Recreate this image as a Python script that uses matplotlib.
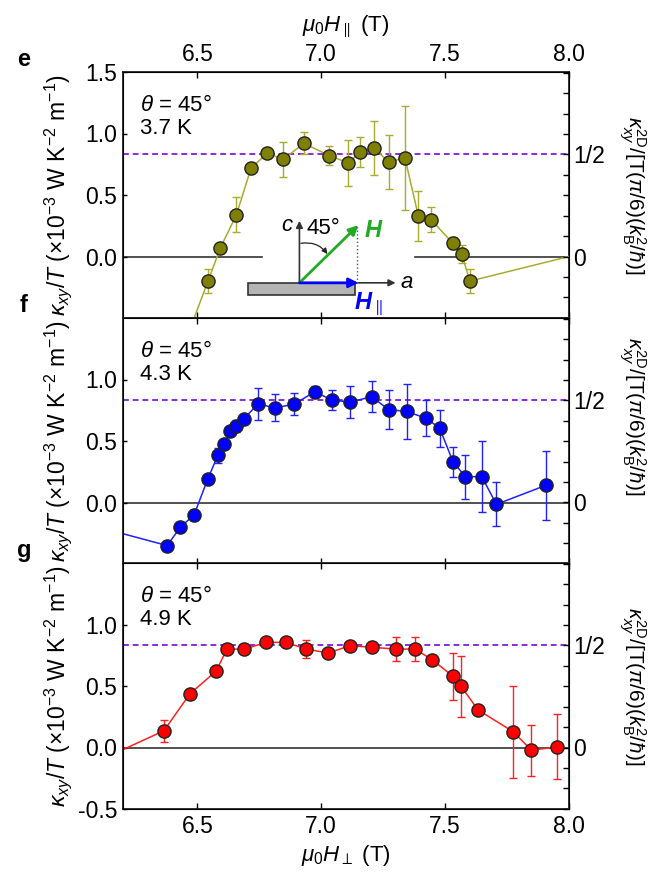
import numpy as np
import matplotlib
matplotlib.use('Agg')
import matplotlib.pyplot as plt
from matplotlib.patches import Rectangle
from matplotlib.ticker import MultipleLocator, FixedLocator, FormatStrFormatter

plt.rcParams['font.family'] = ['Liberation Sans', 'DejaVu Sans']
plt.rcParams['mathtext.fontset'] = 'custom'
plt.rcParams['mathtext.rm'] = 'Liberation Sans'
plt.rcParams['mathtext.it'] = 'Liberation Sans:italic'
plt.rcParams['mathtext.bf'] = 'Liberation Sans:italic:bold'
plt.rcParams['font.size'] = 16

# ---- data ----
# panel e, 3.7 K (first/last entries lie outside the plotted window)
e_H = [6.45, 6.543, 6.593, 6.658, 6.717, 6.783, 6.847, 6.930, 7.033, 7.110, 7.158,
       7.213, 7.272, 7.338, 7.392, 7.443, 7.530, 7.567, 7.600, 8.10]
e_k = [-0.70, -0.20, 0.07, 0.34, 0.72, 0.84, 0.79, 0.92, 0.82, 0.76, 0.85,
       0.88, 0.77, 0.80, 0.33, 0.30, 0.11, 0.02, -0.20, 0.05]
e_err = [0, 0.10, 0.0, 0.14, 0.0, 0.03, 0.14, 0.09, 0.08, 0.19, 0.12,
         0.22, 0.22, 0.42, 0.20, 0.10, 0.05, 0.07, 0.10, 0]

# panel f, 4.3 K
f_H = [6.10, 6.378, 6.432, 6.487, 6.542, 6.583, 6.607, 6.633, 6.657, 6.687, 6.745,
       6.815, 6.892, 6.973, 7.042, 7.115, 7.203, 7.273, 7.345, 7.423, 7.478,
       7.532, 7.582, 7.648, 7.707, 7.907]
f_k = [-0.20, -0.35, -0.20, -0.10, 0.19, 0.385, 0.475, 0.58, 0.62, 0.68, 0.80,
       0.77, 0.80, 0.90, 0.835, 0.815, 0.86, 0.755, 0.74, 0.685, 0.605,
       0.33, 0.21, 0.21, -0.015, 0.14]
f_err = [0, 0.04, 0.04, 0.04, 0.02, 0.06, 0.03, 0.03, 0.05, 0.03, 0.13,
         0.11, 0.09, 0.045, 0.08, 0.13, 0.125, 0.16, 0.22, 0.145, 0.15,
         0.12, 0.18, 0.29, 0.18, 0.28]

# panel g, 4.9 K
g_H = [6.10, 6.365, 6.470, 6.575, 6.620, 6.690, 6.778, 6.857, 6.940, 7.028, 7.117,
       7.203, 7.300, 7.378, 7.448, 7.532, 7.565, 7.633, 7.775, 7.848, 7.953]
g_k = [-0.11, 0.136, 0.436, 0.62, 0.80, 0.80, 0.855, 0.855, 0.80, 0.768, 0.828,
       0.815, 0.80, 0.80, 0.714, 0.578, 0.496, 0.305, 0.128, -0.022, 0.005]
g_err = [0, 0.09, 0, 0, 0, 0, 0, 0, 0.075, 0, 0,
         0, 0.095, 0.095, 0, 0.19, 0.245, 0, 0.375, 0.207, 0.264]

k_half = 0.83          # kappa_xy/T value of half-quantized plateau
temps = ['3.7 K', '4.3 K', '4.9 K']
letters = ['e', 'f', 'g']
x_ticks = [6.5, 7.0, 7.5, 8.0]

panels = [
    (e_H, e_k, e_err, '#808000', '#aaaa30'),
    (f_H, f_k, f_err, '#0000ff', '#2020ff'),
    (g_H, g_k, g_err, '#ff0000', '#ff2020'),
]

fig = plt.figure(figsize=(6.49, 8.75), dpi=100)
left, right = 123 / 649, 569 / 649
tops = [72, 318, 563]
ph = 246

ylab = r'$\kappa_{xy}/T$ (×10$^{-3}$ W K$^{-2}$ m$^{-1}$)'
rlab = r'$\kappa_{xy}^{\rm 2D}$/[T($\pi$/6)($k_{\rm B}^2$/$\hbar$)]'
rlab_y = [0.5, 0.6, 0.5]

axes = []
for i, (H, k, err, mcol, lcol) in enumerate(panels):
    y0 = 1 - (tops[i] + ph) / 875
    ax = fig.add_axes([left, y0, right - left, ph / 875])
    axes.append(ax)
    ax.set_xlim(6.2, 8.0)
    ax.set_ylim(-0.5, 1.5)

    # zero line (broken behind the sketch in panel e)
    if i == 0:
        ax.plot([6.2, 6.759], [0, 0], color='#333333', lw=1.2, zorder=1)
        ax.plot([7.378, 8.0], [0, 0], color='#333333', lw=1.2, zorder=1)
    else:
        ax.axhline(0, color='#333333', lw=1.2, zorder=1)
    ax.axhline(k_half, color='#8a2be2', lw=1.4, ls=(0, (3, 2)), zorder=1)

    ax.errorbar(H, k, yerr=err, fmt='none', ecolor=lcol, elinewidth=1.0,
                capsize=3, capthick=1.0, zorder=2)
    ax.plot(H, k, '-', color=lcol, lw=1.1, zorder=3)
    ax.plot(H, k, 'o', ms=9.5, mfc=mcol, mec='#222222', mew=1.0, zorder=4)

    ax.xaxis.set_major_locator(FixedLocator(x_ticks))
    ax.tick_params(axis='x', direction='in', top=True, bottom=True, length=4,
                   width=1, labelbottom=(i == 2), labeltop=(i == 0), pad=4,
                   labelsize=16.5)
    if i == 0:
        ax.set_yticks([0.0, 0.5, 1.0, 1.5])
    elif i == 1:
        ax.set_yticks([0.0, 0.5, 1.0])
    else:
        ax.set_yticks([-0.5, 0.0, 0.5, 1.0])
    ax.yaxis.set_major_formatter(FormatStrFormatter('%.1f'))
    ax.tick_params(axis='y', direction='in', right=False, length=3, width=1, pad=4,
                   labelsize=16.5)
    for s in ax.spines.values():
        s.set_linewidth(1.3)
        s.set_color('#222222')

    ax.set_ylabel(ylab, fontsize=16.5)
    ax.yaxis.set_label_coords(-0.11, 0.5)

    ax2 = ax.twinx()
    ax2.set_ylim(-0.5 / (2 * k_half), 1.5 / (2 * k_half))
    ax2.yaxis.set_major_locator(FixedLocator([0, 0.5]))
    ax2.set_yticklabels(['0', '1/2'])
    ax2.yaxis.set_minor_locator(MultipleLocator(0.1))
    ax2.tick_params(axis='y', which='both', direction='in', length=4, width=1, pad=3,
                    labelsize=16.5)
    ax2.text(1.143, rlab_y[i], rlab, transform=ax.transAxes, rotation=270,
             ha='center', va='center', fontsize=15)

    ax.text(0.037, 0.865, r'$\theta$ = 45°', transform=ax.transAxes,
            ha='left', va='center', fontsize=16)
    ax.text(0.037, 0.77, temps[i], transform=ax.transAxes,
            ha='left', va='center', fontsize=16)
    fig.text(24 / 649, 1 - (tops[i] - 13) / 875, letters[i], fontsize=17,
             fontweight='bold', ha='center', va='center')

axes[0].set_xlabel(r'$\mu_0H_{\parallel}$ (T)', fontsize=16, labelpad=9)
axes[0].xaxis.set_label_position('top')
axes[2].set_xlabel(r'$\mu_0H_{\perp}$ (T)', fontsize=16, labelpad=4)

# sketch of field geometry in panel e
ax = axes[0]
o = (6.912, -0.214)
ax.add_patch(Rectangle((6.705, -0.314), 0.431, 0.10, facecolor='#b4b4b4',
                       edgecolor='#333333', lw=1.2, zorder=5))
ax.annotate('', xy=(7.30, o[1]), xytext=o,
            arrowprops=dict(arrowstyle='-|>', color='#333333', lw=1.2,
                            mutation_scale=10, shrinkA=0, shrinkB=0), zorder=6)
ax.annotate('', xy=(o[0], 0.29), xytext=o,
            arrowprops=dict(arrowstyle='-|>', color='#333333', lw=1.2,
                            mutation_scale=10, shrinkA=0, shrinkB=0), zorder=6)
ax.plot([7.143, 7.143], [o[1], 0.255], ls=':', color='#555555', lw=1.0, zorder=6)
ax.annotate('', xy=(7.15, 0.255), xytext=o,
            arrowprops=dict(arrowstyle='-|>', color='#22aa22', lw=2.0,
                            mutation_scale=14, shrinkA=0, shrinkB=0), zorder=7)
ax.annotate('', xy=(7.15, o[1]), xytext=o,
            arrowprops=dict(arrowstyle='-|>', color='#0000ff', lw=2.0,
                            mutation_scale=14, shrinkA=0, shrinkB=0), zorder=7)
ax.annotate('', xy=(7.025, 0.02), xytext=(6.918, 0.107),
            arrowprops=dict(arrowstyle='-|>', color='#222222', lw=0.9,
                            mutation_scale=8, shrinkA=0, shrinkB=0,
                            connectionstyle='arc3,rad=-0.3'), zorder=6)
ax.text(6.86, 0.25, 'c', style='italic', fontsize=16, ha='center', va='center', zorder=8)
ax.text(7.01, 0.23, '45°', fontsize=16, ha='center', va='center', zorder=8)
ax.text(7.21, 0.21, 'H', color='#22aa22', fontsize=17, fontweight='bold',
        style='italic', ha='center', va='center', zorder=8)
ax.text(7.345, -0.214, 'a', style='italic', fontsize=16, ha='center', va='center', zorder=8)
ax.text(7.19, -0.39, r'$\mathbf{H}_{\parallel}$', color='#0000ff', fontsize=17,
        ha='center', va='center', zorder=8)

fig.savefig('out.png', dpi=100)
